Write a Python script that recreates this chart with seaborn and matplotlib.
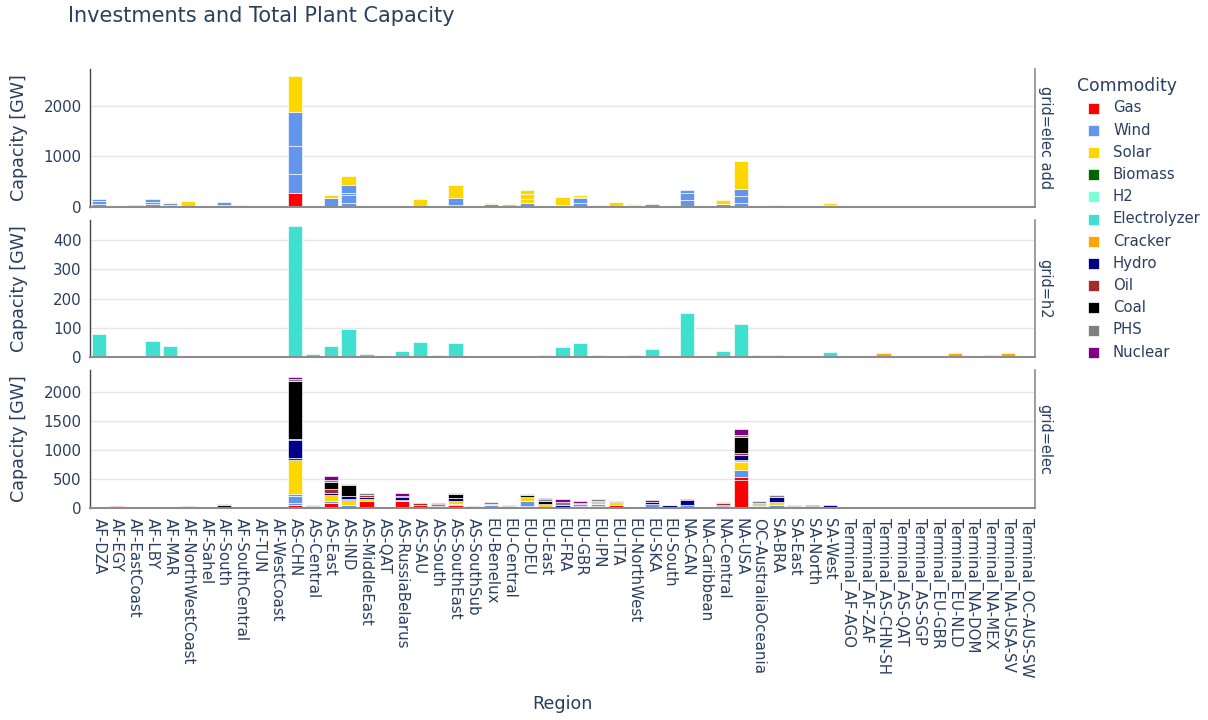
import numpy as np
import pandas as pd
import matplotlib
matplotlib.use("Agg")
import matplotlib.pyplot as plt
from matplotlib.patches import Rectangle
import seaborn as sns

# ---------------------------------------------------------------- categories
REGIONS = [
    "AF-DZA", "AF-EGY", "AF-EastCoast", "AF-LBY", "AF-MAR", "AF-NorthWestCoast",
    "AF-Sahel", "AF-South", "AF-SouthCentral", "AF-TUN", "AF-WestCoast",
    "AS-CHN", "AS-Central", "AS-East", "AS-IND", "AS-MiddleEast", "AS-QAT",
    "AS-RussiaBelarus", "AS-SAU", "AS-South", "AS-SouthEast", "AS-SouthSub",
    "EU-Benelux", "EU-Central", "EU-DEU", "EU-East", "EU-FRA", "EU-GBR",
    "EU-IPN", "EU-ITA", "EU-NorthWest", "EU-SKA", "EU-South",
    "NA-CAN", "NA-Caribbean", "NA-Central", "NA-USA", "OC-AustraliaOceania",
    "SA-BRA", "SA-East", "SA-North", "SA-West",
    "Terminal_AF-AGO", "Terminal_AF-ZAF", "Terminal_AS-CHN-SH", "Terminal_AS-QAT",
    "Terminal_AS-SGP", "Terminal_EU-GBR", "Terminal_EU-NLD", "Terminal_NA-DOM",
    "Terminal_NA-MEX", "Terminal_NA-USA-SV", "Terminal_OC-AUS-SW",
]

COMMODITIES = ["Gas", "Wind", "Solar", "Biomass", "H2", "Electrolyzer",
               "Cracker", "Hydro", "Oil", "Coal", "PHS", "Nuclear"]

PALETTE = {
    "Gas": "#FF0000", "Wind": "#6495ED", "Solar": "#FFD700", "Biomass": "#006400",
    "H2": "#7FFFD4", "Electrolyzer": "#40E0D0", "Cracker": "#FFA500",
    "Hydro": "#00008B", "Oil": "#A52A2A", "Coal": "#000000", "PHS": "#808080",
    "Nuclear": "#800080",
}

# ---------------------------------------------------------------- grid = elec add  [GW]
# a list holds the stacked sub-blocks of one commodity
add_gas = {"AS-CHN": [278], "AS-SAU": [20], "AS-SouthEast": [30]}
add_wind = {
    "AF-DZA": [50, 60, 56], "AF-EastCoast": [25, 21], "AF-LBY": [50, 50, 52],
    "AF-MAR": [40, 30], "AF-NorthWestCoast": [15], "AF-South": [45, 48],
    "AS-CHN": [371, 563, 662], "AS-Central": [10], "AS-East": [185],
    "AS-IND": [80, 150, 50, 157], "AS-RussiaBelarus": [20], "AS-SouthEast": [155],
    "EU-Benelux": [55], "EU-DEU": [70], "EU-FRA": [40], "EU-GBR": [80, 90, 30],
    "EU-ITA": [20], "EU-NorthWest": [30], "EU-SKA": [60],
    "NA-CAN": [132, 146, 60], "NA-Central": [60], "NA-USA": [79, 133, 146],
    "SA-BRA": [25], "SA-West": [30],
}
add_solar = {
    "AF-MAR": [23], "AF-NorthWestCoast": [98], "AF-SouthCentral": [33],
    "AS-CHN": [722], "AS-East": [53], "AS-IND": [166], "AS-MiddleEast": [15],
    "AS-SAU": [146], "AS-SouthEast": [259], "EU-Benelux": [31], "EU-Central": [53],
    "EU-DEU": [90, 90, 81], "EU-FRA": [152], "EU-GBR": [32], "EU-IPN": [40],
    "EU-ITA": [73], "EU-NorthWest": [36], "EU-South": [5], "NA-Central": [79],
    "NA-USA": [556], "SA-BRA": [21], "SA-West": [43],
}

# ---------------------------------------------------------------- grid = h2  [GW]
h2_electrolyzer = {
    "AF-DZA": 79, "AF-EGY": 1, "AF-EastCoast": 5, "AF-LBY": 55, "AF-MAR": 38,
    "AF-NorthWestCoast": 1, "AF-South": 3, "AF-SouthCentral": 2,
    "AS-CHN": 447, "AS-Central": 10, "AS-East": 39, "AS-IND": 95,
    "AS-MiddleEast": 11, "AS-RussiaBelarus": 19, "AS-SAU": 53, "AS-South": 8,
    "AS-SouthEast": 47, "EU-DEU": 5, "EU-East": 8, "EU-FRA": 33, "EU-GBR": 47,
    "EU-IPN": 8, "EU-NorthWest": 6, "EU-SKA": 26, "EU-South": 5,
    "NA-CAN": 149, "NA-Caribbean": 1, "NA-Central": 19, "NA-USA": 114,
    "OC-AustraliaOceania": 8, "SA-BRA": 7, "SA-East": 5, "SA-North": 4, "SA-West": 16,
}
h2_cracker = {
    "Terminal_AS-CHN-SH": 12, "Terminal_AS-QAT": 3, "Terminal_AS-SGP": 2,
    "Terminal_EU-NLD": 14, "Terminal_NA-DOM": 1, "Terminal_NA-MEX": 6,
    "Terminal_NA-USA-SV": 13, "Terminal_OC-AUS-SW": 2,
}

# ---------------------------------------------------------------- grid = elec  [GW]
elec_gas = {
    "AF-DZA": 12, "AF-EGY": 30, "AF-LBY": 4, "AF-NorthWestCoast": 10,
    "AS-CHN": 47, "AS-East": 93, "AS-IND": 17, "AS-MiddleEast": 116,
    "AS-RussiaBelarus": 116, "AS-SAU": 55, "AS-South": 35, "AS-SouthEast": 58,
    "EU-Benelux": 25, "EU-Central": 15, "EU-DEU": 35, "EU-East": 17, "EU-FRA": 10,
    "EU-GBR": 29, "EU-IPN": 35, "EU-ITA": 50, "NA-CAN": 15, "NA-Central": 40,
    "NA-USA": [479, 52], "OC-AustraliaOceania": 20, "SA-BRA": 23, "SA-East": 15,
    "SA-North": 15,
}
elec_wind = {
    "AF-DZA": 5, "AF-EastCoast": 5, "AF-NorthWestCoast": 10, "AS-CHN": [40, 122, 29],
    "AS-East": 23, "AS-IND": 41, "AS-RussiaBelarus": 25, "AS-SouthEast": 18,
    "AS-SouthSub": 15, "EU-Benelux": 30, "EU-DEU": 80, "EU-GBR": 40, "EU-IPN": 35,
    "EU-NorthWest": 10, "EU-SKA": 70, "EU-South": 25, "NA-CAN": 35, "NA-USA": 132,
    "OC-AustraliaOceania": 20, "SA-BRA": 35, "SA-North": 13, "SA-West": 21,
}
elec_solar = {
    "AS-CHN": 593, "AS-East": 117, "AS-IND": 76, "AS-MiddleEast": 47,
    "AS-SouthEast": 40, "EU-Benelux": 20, "EU-DEU": 75, "EU-East": 30, "EU-IPN": 30,
    "EU-ITA": 35, "NA-USA": [139, 22], "OC-AustraliaOceania": 30, "SA-BRA": 40,
}
elec_biomass = {"AS-CHN": 35, "SA-BRA": 8}
elec_hydro = {
    "AF-MAR": 3, "AF-Sahel": 3, "AF-SouthCentral": 5, "AS-CHN": [303, 23],
    "AS-Central": 15, "AS-East": 35, "AS-IND": [29, 40], "AS-MiddleEast": 29,
    "AS-RussiaBelarus": 45, "AS-SouthEast": 50, "EU-East": 28, "EU-FRA": 48,
    "EU-IPN": 20, "EU-ITA": 17, "EU-NorthWest": 5, "EU-SKA": 40, "EU-South": 20,
    "NA-CAN": 90, "NA-Central": 20, "NA-USA": 99, "SA-BRA": 92, "SA-East": 25,
    "SA-North": 30, "SA-West": 25,
}
elec_oil = {"AS-East": 52, "AS-MiddleEast": 40, "AS-SAU": 30, "NA-Central": 20, "NA-USA": 34}
elec_coal = {
    "AF-South": 50, "AS-CHN": 1006, "AS-Central": 12, "AS-East": 130,
    "AS-IND": [12, 180], "AS-RussiaBelarus": 30, "AS-SouthEast": 84,
    "EU-Central": 15, "EU-DEU": 30, "EU-East": 41, "NA-USA": 271,
    "OC-AustraliaOceania": 25,
}
elec_phs = {
    "AF-NorthWestCoast": 9, "AF-South": 13, "AS-CHN": 35, "AS-Central": 20,
    "AS-East": 41, "AS-IND": 18, "AS-MiddleEast": 24, "AS-South": 30,
    "AS-SouthEast": 12, "AS-SouthSub": 20, "EU-Benelux": 23, "EU-Central": 28,
    "EU-DEU": 20, "EU-East": 40, "EU-FRA": 40, "EU-GBR": 25, "EU-IPN": 42,
    "EU-ITA": 25, "EU-South": 13, "NA-Caribbean": 8, "NA-Central": 30,
    "NA-USA": 29, "OC-AustraliaOceania": 32, "SA-BRA": 21, "SA-East": 18,
}
elec_nuclear = {
    "AS-CHN": 40, "AS-East": 70, "AS-RussiaBelarus": 45, "AS-South": 28,
    "EU-East": 23, "EU-FRA": 64, "EU-GBR": 21, "EU-SKA": 23, "NA-CAN": 22,
    "NA-USA": 104,
}

PANELS = [
    ("grid=elec add", {"Gas": add_gas, "Wind": add_wind, "Solar": add_solar},
     2726, [0, 1000, 2000]),
    ("grid=h2", {"Electrolyzer": h2_electrolyzer, "Cracker": h2_cracker},
     469, [0, 100, 200, 300, 400]),
    ("grid=elec", {"Gas": elec_gas, "Wind": elec_wind, "Solar": elec_solar,
                   "Biomass": elec_biomass, "Hydro": elec_hydro, "Oil": elec_oil,
                   "Coal": elec_coal, "PHS": elec_phs, "Nuclear": elec_nuclear},
     2387, [0, 500, 1000, 1500, 2000]),
]

# ---------------------------------------------------------------- styling
sns.set_theme(style="white")
plt.rcParams["font.family"] = ["DejaVu Sans"]
INK = "#2a3f5f"
W, H = 1208, 720
TICK_FS = 10.8
AXIS_FS = 12.6


def segs(v):
    return list(v) if isinstance(v, (list, tuple)) else [v]


def draw_stack(ax, layers):
    bottom = pd.Series(0.0, index=REGIONS)
    for com in COMMODITIES:
        table = layers.get(com)
        if not table:
            continue
        depth = max(len(segs(v)) for v in table.values())
        for k in range(depth):
            names = [r for r in REGIONS
                     if r in table and len(segs(table[r])) > k and segs(table[r])[k] > 0]
            if not names:
                continue
            vals = np.array([segs(table[r])[k] for r in names], dtype=float)
            base = bottom[names].to_numpy()
            sns.barplot(x=names, y=vals, order=REGIONS, bottom=base,
                        color=PALETTE[com], saturation=1, width=0.8,
                        edgecolor="white", linewidth=0.45, errorbar=None, ax=ax)
            bottom[names] += vals


fig = plt.figure(figsize=(W / 100, H / 100), dpi=100)
left, right = 90 / W, 1035 / W
panel_px = [(69, 207), (220, 357), (370, 508)]

axes = []
for (label, layers, ymax, ticks), (top_px, bot_px) in zip(PANELS, panel_px):
    ax = fig.add_axes([left, 1 - bot_px / H, right - left, (bot_px - top_px) / H])
    draw_stack(ax, layers)
    ax.set_xlim(-0.5, len(REGIONS) - 0.5)
    ax.set_ylim(0, ymax)
    ax.set_yticks(ticks)
    ax.set_yticklabels([str(t) for t in ticks])
    ax.grid(axis="y", color="#e6e6e6", linewidth=1)
    ax.grid(axis="x", visible=False)
    ax.set_axisbelow(True)
    ax.spines["top"].set_visible(False)
    ax.spines["left"].set_color("#444444")
    ax.spines["left"].set_linewidth(1)
    ax.spines["bottom"].set_color("#8c8c8c")
    ax.spines["bottom"].set_linewidth(1.5)
    ax.spines["right"].set_color("#8c8c8c")
    ax.spines["right"].set_linewidth(1.2)
    ax.tick_params(length=0, labelsize=TICK_FS, labelcolor=INK)
    ax.tick_params(axis="y", pad=6)
    ax.set_xlabel("")
    ax.set_ylabel("Capacity [GW]", fontsize=AXIS_FS, color=INK)
    ax.yaxis.set_label_coords(-0.066, 0.5)
    fig.text(1045 / W, 1 - (top_px + bot_px) / 2 / H, label, rotation=-90,
             ha="center", va="center", fontsize=10.5, color=INK)
    axes.append(ax)

for ax in axes[:-1]:
    ax.tick_params(axis="x", labelbottom=False)

bottom_ax = axes[-1]
bottom_ax.set_xticks(range(len(REGIONS)))
bottom_ax.set_xticklabels(REGIONS, rotation=-90, ha="center", va="top")
bottom_ax.tick_params(axis="x", pad=7)

# titles
fig.text(68 / W, 1 - 16 / H, "Investments and Total Plant Capacity",
         ha="left", va="center", fontsize=15, color=INK)
fig.text((90 + 1035) / 2 / W, 1 - 704 / H, "Region",
         ha="center", va="center", fontsize=AXIS_FS, color=INK)

# legend
fig.text(1077 / W, 1 - 86 / H, "Commodity", ha="left", va="center",
         fontsize=12.4, color=INK)
for i, com in enumerate(COMMODITIES):
    yc = 108 + 22.2 * i
    fig.add_artist(Rectangle((1088 / W, 1 - (yc + 5.5) / H), 11 / W, 11 / H,
                             transform=fig.transFigure, facecolor=PALETTE[com],
                             edgecolor="white", linewidth=0.5))
    fig.text(1113 / W, 1 - yc / H, com, ha="left", va="center",
             fontsize=10.7, color=INK)

fig.savefig("out.png", dpi=100, facecolor="white")
